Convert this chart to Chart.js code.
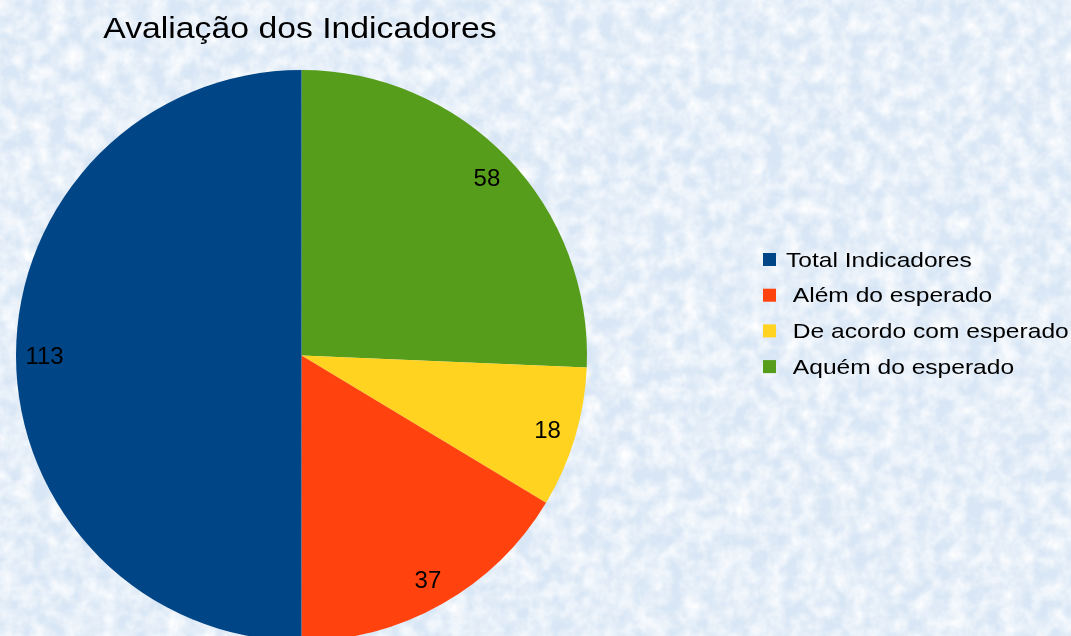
<!DOCTYPE html>
<html lang="pt-BR">
<head>
<meta charset="utf-8">
<title>Avaliação dos Indicadores</title>
<script src="https://cdn.jsdelivr.net/npm/chart.js@4/dist/chart.umd.min.js"></script>
<style>
    html, body {
        margin: 0;
        padding: 0;
        width: 1071px;
        height: 636px;
        overflow: hidden;
    }
    body {
        background-color: #d8e6f5;
        background-repeat: no-repeat;
        background-image: url("data:image/svg+xml,%3Csvg xmlns='http://www.w3.org/2000/svg' width='1071' height='660'%3E%3Cfilter id='n'%3E%3CfeTurbulence type='fractalNoise' baseFrequency='0.06' numOctaves='3' seed='4'/%3E%3CfeColorMatrix values='0 0 0 0 1 0 0 0 0 1 0 0 0 0 1 1.6 0 0 0 -0.45'/%3E%3C/filter%3E%3Crect width='1071' height='660' filter='url(%23n)'/%3E%3C/svg%3E");
    }
    #wrap {
        position: absolute;
        left: 0;
        top: 0;
        width: 1071px;
        height: 660px;
    }
</style>
</head>
<body>
<div id="wrap"><canvas id="grafico"></canvas></div>
<script>
// ========================================
// Avaliação dos Indicadores - gráfico de pizza
// ========================================

// categorias na ordem da legenda
const categorias = ['Total Indicadores', ' Além do esperado', ' De acordo com esperado', ' Aquém do esperado'];
const valores = [113, 37, 18, 58];
const cores = ['#004586', '#ff420e', '#ffd320', '#579d1c'];

const FONTE = '"Liberation Sans", Arial, sans-serif';

// o LibreOffice desenha anti-horário a partir do topo; o Chart.js desenha horário,
// então a série é invertida e a legenda é desenhada na ordem original
const ordem = categorias.map((c, i) => i).reverse();

// texto levemente esticado na horizontal, como no original
function textoLargo(ctx, txt, x, y, sx) {
    ctx.save();
    ctx.translate(x, y);
    ctx.scale(sx, 1);
    ctx.fillText(txt, 0, 0);
    ctx.restore();
}

const pluginTexto = {
    id: 'pluginTexto',
    afterDraw(chart) {
        const ctx = chart.ctx;
        ctx.save();

        // título
        ctx.fillStyle = '#000';
        ctx.font = '30px ' + FONTE;
        ctx.textAlign = 'center';
        ctx.textBaseline = 'alphabetic';
        textoLargo(ctx, 'Avaliação dos Indicadores', 300, 38, 1.125);

        // rótulos dos valores
        const meta = chart.getDatasetMeta(0);
        ctx.font = '24px ' + FONTE;
        ctx.textBaseline = 'middle';
        meta.data.forEach((arc, i) => {
            const meio = (arc.startAngle + arc.endAngle) / 2;
            const r = arc.outerRadius * 0.9;
            const x = arc.x + Math.cos(meio) * r;
            const y = arc.y + Math.sin(meio) * r;
            ctx.fillText(String(chart.data.datasets[0].data[i]), x, y + 2);
        });

        // legenda
        ctx.font = '21px ' + FONTE;
        ctx.textAlign = 'left';
        categorias.forEach((nome, i) => {
            const y = 260 + i * 35.7;
            ctx.fillStyle = cores[i];
            ctx.fillRect(763, y - 7, 13, 13);
            ctx.fillStyle = '#000';
            textoLargo(ctx, nome, 786, y + 1, 1.17);
        });

        ctx.restore();
    }
};

new Chart(document.getElementById('grafico'), {
    type: 'pie',
    data: {
        labels: ordem.map(i => categorias[i]),
        datasets: [{
            data: ordem.map(i => valores[i]),
            backgroundColor: ordem.map(i => cores[i]),
            borderWidth: 0
        }]
    },
    options: {
        responsive: true,
        maintainAspectRatio: false,
        animation: false,
        rotation: 0,
        layout: { padding: { left: 16, top: 70, right: 484, bottom: 19 } },
        plugins: {
            legend: { display: false },
            title: { display: false },
            tooltip: { enabled: false }
        }
    },
    plugins: [pluginTexto]
});
</script>
</body>
</html>
